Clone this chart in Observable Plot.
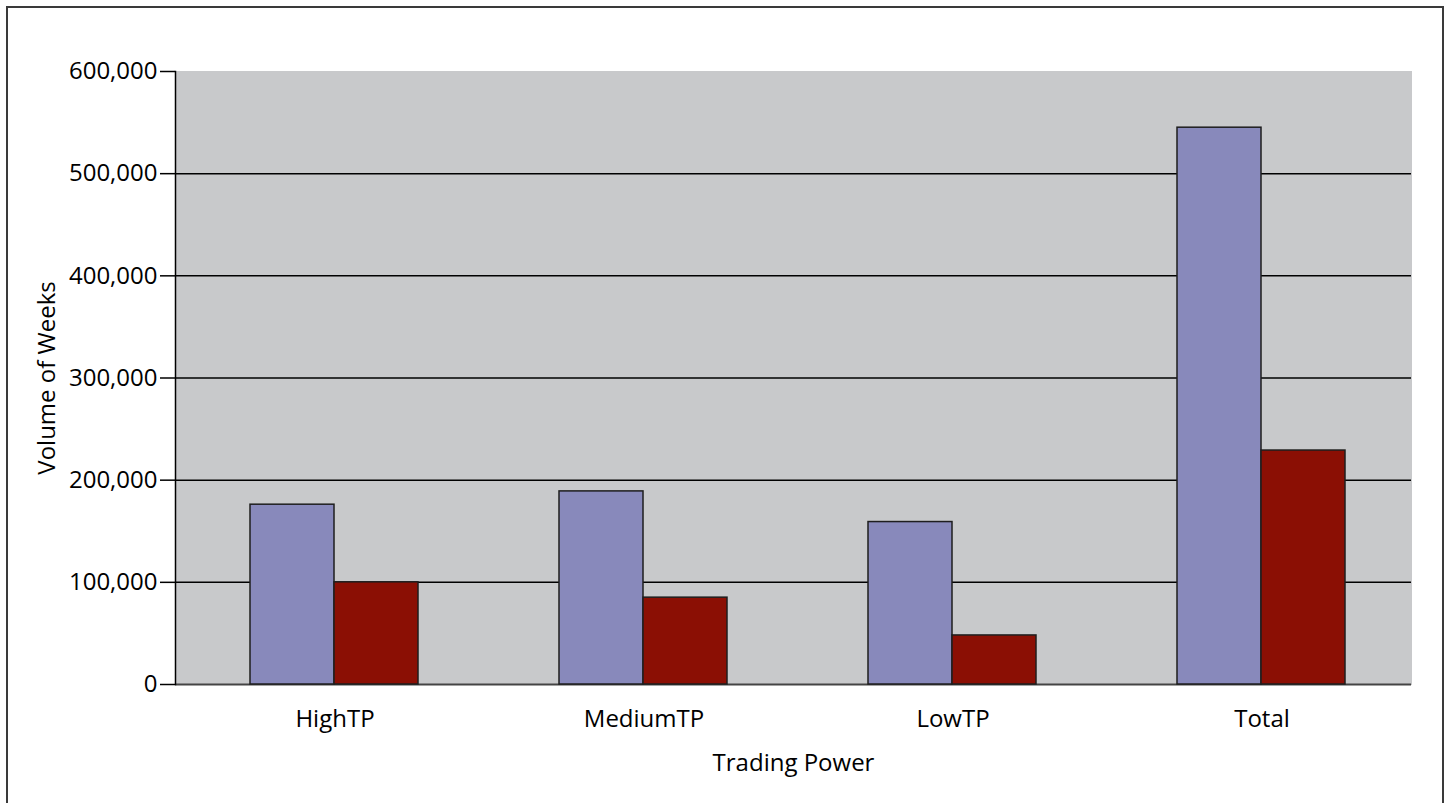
<!DOCTYPE html>
<html><head><meta charset="utf-8">
<script src="https://cdn.jsdelivr.net/npm/d3@7"></script>
<script src="https://cdn.jsdelivr.net/npm/@observablehq/plot@0.6"></script>
<style>
html,body{margin:0;padding:0;background:#fff;}
#wrap{position:relative;width:1448px;height:803px;overflow:hidden;}
#border{position:absolute;left:6px;top:6px;width:1438px;height:830px;border:2px solid #3a3a3a;box-sizing:border-box;pointer-events:none;}
#chart{position:absolute;left:0;top:0;}
</style></head><body>
<div id="wrap"><div id="chart"></div><div id="border"></div></div>
<script>
const groups = ["HighTP", "MediumTP", "LowTP", "Total"];
const series = ["Series 1", "Series 2"];
const series1 = [176000, 189000, 159000, 545000];
const series2 = [100000, 85000, 48000, 229000];
const yTicks = [0, 100000, 200000, 300000, 400000, 500000, 600000];
const gridValues = [100000, 200000, 300000, 400000, 500000];
const colors = ["#8889bb", "#8b0f04"];

const data = groups.flatMap((g, i) => [
  {group: g, series: series[0], value: series1[i]},
  {group: g, series: series[1], value: series2[i]}
]);

const chart = Plot.plot({
  width: 1448, height: 803,
  marginLeft: 173, marginRight: 36, marginTop: 71, marginBottom: 119,
  style: {fontFamily: "'Open Sans', sans-serif", fontSize: "24px", color: "#000", background: "transparent"},
  fx: {domain: groups, paddingInner: 0, paddingOuter: 0},
  x: {domain: series, paddingInner: 0, paddingOuter: 0.822, align: 0.53, axis: null},
  y: {domain: [0, 600000]},
  color: {domain: series, range: colors},
  marks: [
    Plot.frame({fill: "#c8c9cb", stroke: "#c8c9cb"}),
    Plot.ruleY(gridValues, {stroke: "#000", strokeWidth: 1.5}),
    Plot.ruleY([0], {stroke: "#444", strokeWidth: 2}),
    Plot.barY(data, {fx: "group", x: "series", y: "value", fill: "series", stroke: "#1e1e1e", strokeWidth: 1.5}),
    Plot.frame({anchor: "left", facetAnchor: "left", stroke: "#000", strokeWidth: 1.5}),
    Plot.axisY({ticks: yTicks, tickSize: 15, tickPadding: 3, tickFormat: d3.format(","), fontSize: 24, stroke: "#000", strokeWidth: 1.5,
      label: "Volume of Weeks", labelAnchor: "center", labelArrow: false, labelOffset: 138}),
    Plot.axisFx({anchor: "bottom", tickSize: 0, tickPadding: 25, dx: 5, fontSize: 24, label: null}),
    Plot.axisFx({anchor: "bottom", ticks: [], tickSize: 0, label: "Trading Power", labelAnchor: "center", labelArrow: false, labelOffset: 86, fontSize: 24})
  ]
});
document.getElementById("chart").appendChild(chart);
</script>
</body></html>
